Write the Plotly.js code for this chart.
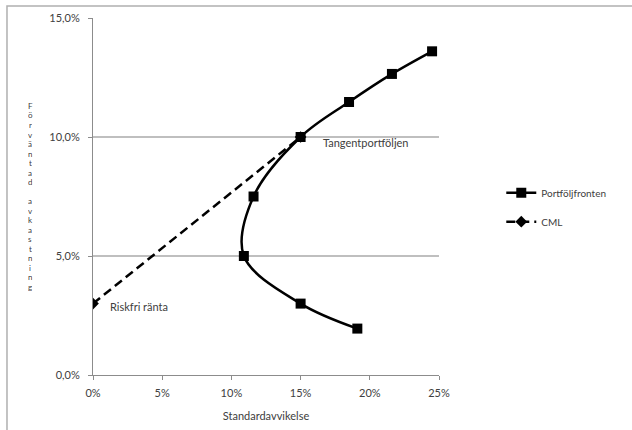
<!DOCTYPE html>
<html>
<head>
<meta charset="utf-8">
<script src="https://cdn.plot.ly/plotly-3.0.1.min.js"></script>
<style>html,body{margin:0;padding:0;background:#fff;}#chart{width:632px;height:430px;}</style>
</head>
<body>
<div id="chart"></div>
<script>
// Data (fractions)
const frontRisk   = [0.191, 0.150, 0.109, 0.116, 0.150, 0.185, 0.216, 0.245];
const frontReturn = [0.0195, 0.030, 0.050, 0.075, 0.100, 0.1147, 0.1265, 0.136];
const cmlRisk   = [0.0, 0.150];
const cmlReturn = [0.030, 0.100];
const xTicks = [0, 0.05, 0.10, 0.15, 0.20, 0.25];
const yTicks = [0, 0.05, 0.10, 0.15];
const seriesNames = ['Portföljfronten', 'CML'];
const yTitle = 'Förväntad avkastning';
const xTitle = 'Standardavvikelse';
const labelTangent = 'Tangentportföljen';
const labelRiskfree = 'Riskfri ränta';

const font = 'Lato, "Open Sans", "Liberation Sans", sans-serif';
const textColor = '#404040';

const traces = [
  {
    x: frontRisk, y: frontReturn, name: seriesNames[0], type: 'scatter', mode: 'lines+markers',
    line: {color: '#000', width: 2.5, shape: 'spline', smoothing: 1},
    marker: {symbol: 'square', size: 10, color: '#000'},
    legendgroup: 'a'
  },
  {
    x: cmlRisk, y: cmlReturn, name: seriesNames[1], type: 'scatter', mode: 'lines+markers',
    line: {color: '#000', width: 2.5, dash: '9px,5px'},
    marker: {symbol: 'diamond', size: 9, color: '#000'},
    legendgroup: 'b'
  }
];

// vertical stacked y-axis title, one character per line
const plotTop = 18, plotH = 357;
const titleChars = Array.from(yTitle);
const firstCenterPx = 106, stepPx = 9.5;
const titleAnns = titleChars
  .map((ch, i) => ({ch, i}))
  .filter(o => o.ch !== ' ')
  .map(o => ({
    x: -0.182, y: 1 - (firstCenterPx + o.i * stepPx - plotTop) / plotH,
    xref: 'paper', yref: 'paper', text: o.ch, showarrow: false,
    xanchor: 'center', yanchor: 'middle', height: 8,
    font: {family: font, size: 8, color: textColor}
  }));

const layout = {
  width: 632, height: 430,
  margin: {l: 93, r: 193, t: 18, b: 55},
  paper_bgcolor: '#fff', plot_bgcolor: '#fff',
  separators: ',.',
  font: {family: font, size: 11, color: textColor},
  showlegend: true,
  legend: {
    x: 1.18, y: 0.47, xanchor: 'left', yanchor: 'middle',
    font: {family: font, size: 10, color: textColor},
    traceorder: 'grouped', tracegroupgap: 10,
    itemwidth: 30, bgcolor: 'rgba(0,0,0,0)'
  },
  xaxis: {
    range: [0, 0.25], tickvals: xTicks, tickformat: '.0%',
    showgrid: false, zeroline: false,
    showline: true, linecolor: '#8c8c8c', linewidth: 1,
    ticks: 'outside', ticklen: 4, tickcolor: '#8c8c8c', ticklabelstandoff: 4,
    tickfont: {family: font, size: 11, color: textColor},
    title: {text: xTitle, font: {family: font, size: 11, color: textColor}, standoff: 14}
  },
  yaxis: {
    range: [0, 0.15], tickvals: yTicks, tickformat: '.1%',
    showgrid: true, gridcolor: '#bfbfbf', gridwidth: 2, zeroline: false,
    showline: true, linecolor: '#8c8c8c', linewidth: 1,
    ticks: 'outside', ticklen: 4, tickcolor: '#8c8c8c', ticklabelstandoff: 6,
    tickfont: {family: font, size: 11, color: textColor}
  },
  annotations: [
    {x: 0.165, y: 0.0975, xref: 'x', yref: 'y', text: labelTangent, showarrow: false,
     xanchor: 'left', yanchor: 'middle', font: {family: font, size: 11, color: textColor}},
    {x: 0.0105, y: 0.0286, xref: 'x', yref: 'y', text: labelRiskfree, showarrow: false,
     xanchor: 'left', yanchor: 'middle', font: {family: font, size: 11, color: textColor}}
  ].concat(titleAnns),
  shapes: [
    {type: 'rect', xref: 'paper', yref: 'paper', x0: -0.2486, x1: 2, y0: -1, y1: 1.0336,
     line: {color: '#b0b0b0', width: 1.5}, fillcolor: 'rgba(0,0,0,0)', layer: 'below'}
  ]
};

Plotly.newPlot('chart', traces, layout, {displayModeBar: false, staticPlot: true});
</script>
</body>
</html>
